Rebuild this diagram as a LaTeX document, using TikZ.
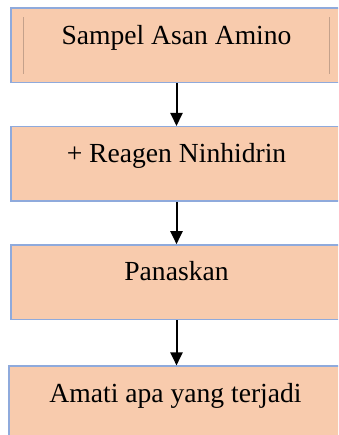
\documentclass[tikz,border=0pt]{standalone}
\usepackage{fontspec}
\setmainfont{Liberation Serif}
\usetikzlibrary{arrows.meta}
\definecolor{boxfill}{HTML}{F8CBAD}
\definecolor{boxline}{HTML}{8FAADC}
\definecolor{innerrule}{HTML}{C4A18B}
\tikzset{
  stepbox/.style={draw=boxline, fill=boxfill, line width=1.5pt, rectangle,
    inner sep=0pt, minimum height=74.5pt,
    text height=20pt, text depth=22.6pt,
    font=\fontsize{27.6}{33}\selectfont},
  flow/.style={line width=2pt, -{Triangle[width=12pt,length=13pt]}}
}
\begin{document}
\begin{tikzpicture}[x=1pt,y=-1pt]
  \useasboundingbox (0,0) rectangle (338,435);
  \clip (0,0) rectangle (338,435);
  \node[stepbox, minimum width=331pt] (b1) at (176.5,45.5) {Sampel Asan Amino};
  \node[stepbox, minimum width=331pt] (b2) at (176.5,164) {+ Reagen Ninhidrin};
  \node[stepbox, minimum width=331pt] (b3) at (176.5,282.2) {Panaskan};
  \node[stepbox, minimum width=333pt, minimum height=76pt] (b4) at (175.5,404.2) {Amati apa yang terjadi};
  % thin vertical rules inside the first box
  \draw[innerrule, line width=1.3pt] ([xshift=13.5pt,yshift=-10pt]b1.north west) -- ([xshift=13.5pt,yshift=9pt]b1.south west);
  \draw[innerrule, line width=1.3pt] ([xshift=-13pt,yshift=-10pt]b1.north east) -- ([xshift=-13pt,yshift=9pt]b1.south east);
  \draw[flow] (b1.south) -- (b2.north);
  \draw[flow] (b2.south) -- (b3.north);
  \draw[flow] (b3.south) -- (b3.south |- b4.north);
\end{tikzpicture}
\end{document}
